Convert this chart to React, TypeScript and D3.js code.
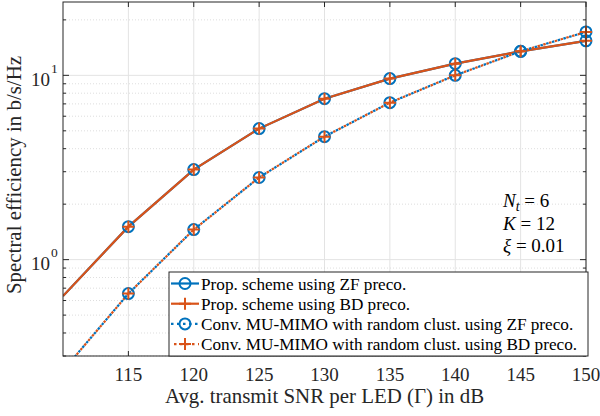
import React from "react";
import * as d3 from "d3";

const snr = [110, 115, 120, 125, 130, 135, 140, 145, 150];
const propZF = [0.635, 1.51, 3.08, 5.14, 7.47, 9.6, 11.57, 13.5, 15.4];
const propBD = [0.635, 1.51, 3.08, 5.14, 7.47, 9.6, 11.57, 13.5, 15.4];
const convZF = [0.25, 0.654, 1.455, 2.79, 4.65, 7.11, 10.0, 13.5, 17.2];
const convBD = [0.25, 0.654, 1.455, 2.79, 4.65, 7.11, 10.0, 13.5, 17.2];
const xTicks = [115, 120, 125, 130, 135, 140, 145, 150];
const yMajor = [1, 10];
const yMinor = [0.3, 0.4, 0.5, 0.6, 0.7, 0.8, 0.9, 2, 3, 4, 5, 6, 7, 8, 9, 20];
const legendLabels = [
  "Prop. scheme using ZF preco.",
  "Prop. scheme using BD preco.",
  "Conv. MU-MIMO with random clust. using ZF preco.",
  "Conv. MU-MIMO with random clust. using BD preco.",
];

const BLUE = "#0072BD";
const ORANGE = "#D95319";
const AX = "#262626";
const FONT = "Liberation Serif";

export default function App() {
  const L = 63, R = 586, T = 2, B = 356;
  const x = d3.scaleLinear().domain([110, 150]).range([L, R]);
  const y = d3.scaleLog().domain([0.3, 25]).range([B, T]);
  const line = d3.line<number>().x((_, i) => x(snr[i])).y((d) => y(d));

  const series = [
    { data: propZF, color: BLUE, dash: undefined, marker: "o", offset: 0 },
    { data: propBD, color: ORANGE, dash: undefined, marker: "+", offset: 0 },
    { data: convZF, color: BLUE, dash: "2.5 3.5", marker: "o", offset: 0 },
    { data: convBD, color: ORANGE, dash: "2.5 3.5", marker: "+", offset: 3 },
  ];

  const marker = (type: string, cx: number, cy: number, color: string, key: string) =>
    type === "o" ? (
      <circle key={key} cx={cx} cy={cy} r={5.5} fill="none" stroke={color} strokeWidth={2} />
    ) : (
      <path key={key} d={`M${cx - 6},${cy}H${cx + 6}M${cx},${cy - 6}V${cy + 6}`} stroke={color} strokeWidth={2} />
    );

  const legX = 169, legY = 272, legW = 419, legH = 84;
  return (
    <svg
      width={600}
      height={416}
      style={{ position: "absolute", left: 0, top: 0, fontFamily: FONT }}
      fontFamily={FONT}
    >
      <defs>
        <clipPath id="plotclip">
          <rect x={L} y={T} width={R - L} height={B - T} />
        </clipPath>
      </defs>
      <rect x={0} y={0} width={600} height={416} fill="white" />
      {xTicks.map((t) => (
        <line key={"gx" + t} x1={x(t)} x2={x(t)} y1={T} y2={B} stroke="#e3e3e3" strokeWidth={1} />
      ))}
      {yMinor.map((t) => (
        <line key={"gm" + t} x1={L} x2={R} y1={y(t)} y2={y(t)} stroke="#d0d0d0" strokeWidth={0.7} strokeDasharray="1 2" />
      ))}
      {yMajor.map((t) => (
        <line key={"gy" + t} x1={L} x2={R} y1={y(t)} y2={y(t)} stroke="#e3e3e3" strokeWidth={1} />
      ))}
      <g clipPath="url(#plotclip)">
        {series.map((s, i) => (
          <path
            key={"l" + i}
            d={line(s.data) || ""}
            fill="none"
            stroke={s.color}
            strokeWidth={2.2}
            strokeDasharray={s.dash}
            strokeDashoffset={s.offset}
          />
        ))}
      </g>
      {series.map((s, i) =>
        s.data.map((d, j) =>
          snr[j] >= 115 && d >= 0.3 ? marker(s.marker, x(snr[j]), y(d), s.color, `m${i}-${j}`) : null
        )
      )}
      <rect x={L} y={T} width={R - L} height={B - T} fill="none" stroke={AX} strokeWidth={1} />
      {xTicks.map((t) => (
        <g key={"tx" + t}>
          <line x1={x(t)} x2={x(t)} y1={B} y2={B - 5} stroke={AX} />
          <line x1={x(t)} x2={x(t)} y1={T} y2={T + 5} stroke={AX} />
          <text x={x(t)} y={381} textAnchor="middle" fontSize={19} fill={AX} fontFamily={FONT}>
            {t}
          </text>
        </g>
      ))}
      {yMajor.map((t) => (
        <g key={"ty" + t}>
          <line x1={L} x2={L + 6} y1={y(t)} y2={y(t)} stroke={AX} />
          <line x1={R} x2={R - 6} y1={y(t)} y2={y(t)} stroke={AX} />
          <text x={50} y={y(t) + 10.5} textAnchor="end" fontSize={19} fill={AX} fontFamily={FONT}>
            10
          </text>
          <text x={51} y={y(t) - 2.5} fontSize={13.5} fill={AX} fontFamily={FONT}>
            {Math.round(Math.log10(t))}
          </text>
        </g>
      ))}
      {yMinor.map((t) => (
        <g key={"tm" + t}>
          <line x1={L} x2={L + 3} y1={y(t)} y2={y(t)} stroke={AX} />
          <line x1={R} x2={R - 3} y1={y(t)} y2={y(t)} stroke={AX} />
        </g>
      ))}
      <text x={(L + R) / 2} y={403} textAnchor="middle" fontSize={20.9} fill={AX} fontFamily={FONT}>
        Avg. transmit SNR per LED (Γ) in dB
      </text>
      <text
        transform={`translate(21,175) rotate(-90)`}
        textAnchor="middle"
        fontSize={20.9}
        fill={AX}
        fontFamily={FONT}
      >
        Spectral efficiency in b/s/Hz
      </text>
      <g fontSize={19} fill="black" fontFamily={FONT}>
        <text x={503} y={207}>
          <tspan fontStyle="italic">N</tspan>
          <tspan fontStyle="italic" fontSize={14} dy={4}>t</tspan>
          <tspan dy={-4}> = 6</tspan>
        </text>
        <text x={503} y={230}>
          <tspan fontStyle="italic">K</tspan>
          <tspan> = 12</tspan>
        </text>
        <text x={503} y={252}>
          <tspan fontStyle="italic">ξ</tspan>
          <tspan> = 0.01</tspan>
        </text>
      </g>
      <rect x={legX} y={legY} width={legW} height={legH} fill="white" stroke={AX} strokeWidth={1} />
      {legendLabels.map((lab, i) => {
        const cy = 283.5 + i * 20.2;
        const s = series[i];
        return (
          <g key={"lg" + i}>
            <line x1={171} x2={199} y1={cy} y2={cy} stroke={s.color} strokeWidth={2.2} strokeDasharray={s.dash} strokeDashoffset={s.offset} />
            {marker(s.marker, 185, cy, s.color, "lm" + i)}
            <text x={201} y={cy + 6} fontSize={17.2} fill="black" fontFamily={FONT}>
              {lab}
            </text>
          </g>
        );
      })}
    </svg>
  );
}
